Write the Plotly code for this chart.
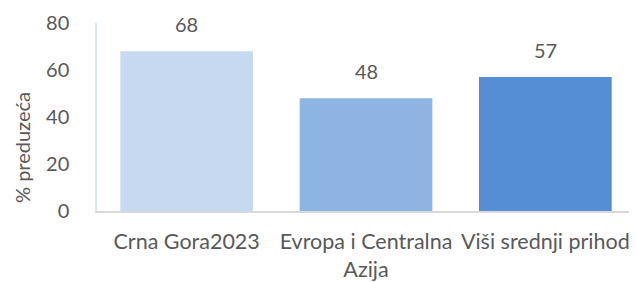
import plotly.graph_objects as go

categories = ["Crna Gora2023", "Evropa i Centralna<br>Azija", "Viši srednji prihod"]
values = [68, 48, 57]
colors = ["#C6D9F0", "#8EB4E3", "#558ED5"]
y_ticks = [0, 20, 40, 60, 80]
y_title = "% preduzeća"

font_family = "Lato, Open Sans, sans-serif"
text_color = "#595959"

fig = go.Figure()
fig.add_trace(go.Bar(
    x=categories, y=values, marker_color=colors, marker_line_width=0,
    width=0.74, showlegend=False, hoverinfo="skip",
))
for c, v in zip(categories, values):
    fig.add_annotation(x=c, y=v, text=str(v), showarrow=False, yshift=27,
                       yanchor="middle",
                       font=dict(family=font_family, size=20, color=text_color))

# y-axis title placed as a rotated annotation (offset lower like in the reference)
fig.add_annotation(text=y_title, xref="paper", yref="paper", x=0, y=0.335,
                   xshift=-75, textangle=-90, showarrow=False,
                   xanchor="center", yanchor="middle",
                   font=dict(family=font_family, size=20, color=text_color))

fig.update_layout(
    width=629, height=274,
    margin=dict(l=89, r=2, t=15, b=71, autoexpand=False),
    plot_bgcolor="white", paper_bgcolor="white",
    font=dict(family=font_family, color=text_color),
)
fig.update_xaxes(
    showline=True, linecolor="#D9D9D9", linewidth=1.5,
    showgrid=False, ticks="", ticklabelstandoff=10, tickangle=0,
    automargin=False,
    tickfont=dict(family=font_family, size=21.5, color=text_color),
)
fig.update_yaxes(
    range=[0, 80], tickvals=y_ticks, showgrid=False,
    showline=True, linecolor="#DCE6F2", linewidth=1.5,
    ticks="", ticklabelstandoff=22, automargin=False,
    tickfont=dict(family=font_family, size=20, color=text_color),
)
fig.write_html("out.html")
